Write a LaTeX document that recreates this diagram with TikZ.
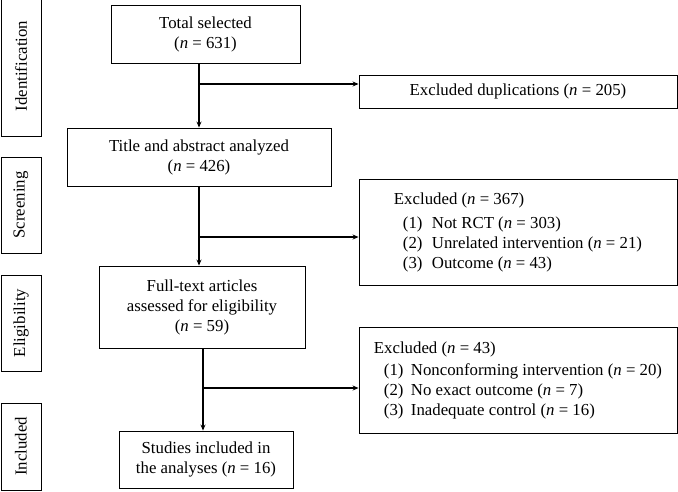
\documentclass[tikz,border=0pt]{standalone}
\usepackage{fontspec}
\setmainfont{Liberation Serif}
\usetikzlibrary{arrows.meta}
\newcommand{\nval}[1]{(\textit{n} = #1)}
\tikzset{
  stagebox/.style={draw,line width=0.9pt,rotate=90,inner sep=0pt},
  flowbox/.style={draw,line width=0.9pt,align=center,inner sep=0pt},
  exclbox/.style={draw,line width=0.9pt,align=left,inner sep=0pt,minimum width=318pt},
  flowarrow/.style={line width=1.3pt,-{Stealth[length=6pt,width=5pt]}}
}
\begin{document}
\begin{tikzpicture}[x=1pt,y=-1pt,font=\fontsize{16.8}{20}\selectfont]
\useasboundingbox (0,0) rectangle (678,491);
%
\node [stagebox,minimum width=140pt,minimum height=40pt] (ident) at (21,66) {Identification};
\node [stagebox,minimum width=96pt,minimum height=40pt] (screen) at (21,205) {Screening};
\node [stagebox,minimum width=96pt,minimum height=40pt] (elig) at (21,323) {Eligibility};
\node [stagebox,minimum width=87pt,minimum height=40pt] (incl) at (21,446.5) {Included};
%
\node [flowbox,minimum width=189pt,minimum height=58pt] (total) at (205.5,34) {Total selected\\\nval{631}};
\node [flowbox,minimum width=264pt,minimum height=58pt] (title) at (199,157) {Title and abstract analyzed\\\nval{426}};
\node [flowbox,minimum width=206pt,minimum height=82pt] (full) at (202,307) {Full-text articles\\assessed for eligibility\\\nval{59}};
\node [flowbox,minimum width=174pt,minimum height=57pt] (studies) at (206,459.5) {Studies included in\\the analyses \nval{16}};
%
\node [exclbox,minimum height=33pt] (dup) at (518,91.5) {Excluded duplications \nval{205}};
\node [exclbox,minimum height=106pt] (excl1) at (518,232) {Excluded \nval{367}\\[4pt]
  \hspace*{9pt}\makebox[29pt][l]{(1)}Not RCT \nval{303}\\
  \hspace*{9pt}\makebox[29pt][l]{(2)}Unrelated intervention \nval{21}\\
  \hspace*{9pt}\makebox[29pt][l]{(3)}Outcome \nval{43}};
\node [exclbox,minimum height=106pt] (excl2) at (518,380) {Excluded \nval{43}\\[2pt]
  \hspace*{10pt}\makebox[27pt][l]{(1)}Nonconforming intervention \nval{20}\\
  \hspace*{10pt}\makebox[27pt][l]{(2)}No exact outcome \nval{7}\\
  \hspace*{10pt}\makebox[27pt][l]{(3)}Inadequate control \nval{16}};
%
\coordinate (split1) at (199,84);
\coordinate (split2) at (199,237);
\coordinate (split3) at (203,388);
%
\draw [flowarrow] (split1 |- total.south) -- (split1 |- title.north);
\draw [flowarrow] (split1) -- (split1 -| dup.west);
\draw [flowarrow] (split2 |- title.south) -- (split2 |- full.north);
\draw [flowarrow] (split2) -- (split2 -| excl1.west);
\draw [flowarrow] (split3 |- full.south) -- (split3 |- studies.north);
\draw [flowarrow] (split3) -- (split3 -| excl2.west);
\end{tikzpicture}
\end{document}
